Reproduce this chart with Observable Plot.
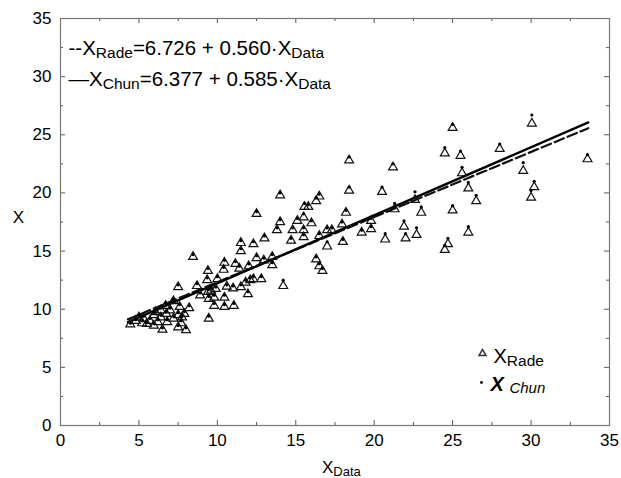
<!DOCTYPE html>
<html><head><meta charset="utf-8">
<script src="https://cdn.jsdelivr.net/npm/d3@7"></script>
<script src="https://cdn.jsdelivr.net/npm/@observablehq/plot@0.6"></script>
<style>body{margin:0;background:#fff}#chart svg{display:block}</style>
</head><body><div id="chart"></div>
<script>
// ---- data ----
const xData = [30.05,28.0,29.5,30.2,30.0,33.6,25.0,24.5,25.5,25.6,21.2,26.0,26.5,21.3,22.6,23.0,25.0,21.9,22.7,22.0,26.0,24.7,24.5,
  18.4,18.4,20.5,16.5,16.3,15.55,15.8,18.2,17.95,15.5,15.1,16.0,15.5,15.5,14.8,14.7,17.0,16.5,17.3,19.8,19.2,19.8,20.7,18.0,17.0,16.3,16.5,16.7,
  14.0,12.5,14.0,13.8,11.5,12.3,13.0,11.5,10.45,11.15,12.5,12.96,13.5,13.5,12.0,11.4,9.4,10.4,10.0,12.1,11.8,12.3,12.8,14.2,10.6,11.0,11.5,9.9,9.6,10.45,11.95,9.35,
  8.45,7.5,8.7,8.9,9.4,9.45,7.6,7.0,7.5,7.9,8.2,9.45,7.7,6.5,8.0,4.45,4.8,5.7,5.95,6.4,6.75,6.2,5.5,5.2,5.95,6.8,7.2,6.4,6.7,7.2,6.05,5.3,5.0,11.05,9.8,7.5,7.75,9.8,10.45];
const xRade = [25.97,23.8,21.9,20.5,19.6,22.9,25.6,23.4,23.2,21.7,22.2,20.4,19.3,18.6,19.4,18.3,18.5,17.1,16.4,16.1,16.6,15.6,15.1,
  22.8,20.2,20.1,19.7,19.3,18.8,18.8,18.3,17.3,17.9,17.6,17.4,16.8,16.2,16.8,15.9,16.8,16.3,16.8,17.6,16.6,16.9,16.0,15.8,15.4,14.3,13.7,13.3,
  19.8,18.2,17.5,16.8,15.7,15.6,16.1,15.0,14.0,13.9,14.4,14.2,14.5,13.8,13.7,13.5,13.3,13.4,12.6,12.5,12.3,12.6,12.6,12.0,11.95,11.8,11.9,11.75,11.6,11.0,11.3,12.5,
  14.5,11.9,12.0,11.2,11.5,10.9,10.2,9.9,9.5,9.6,10.1,9.2,8.8,8.25,8.2,8.7,9.0,9.0,9.5,9.3,9.6,8.9,8.75,8.8,8.6,8.9,9.2,9.9,10.3,10.7,9.75,9.2,9.3,10.3,10.3,8.45,9.3,11.0,10.2];
const xChun = [26.7,24.2,22.6,21.0,20.2,23.3,25.9,23.9,23.6,22.2,22.5,20.9,19.8,19.1,20.1,18.8,18.9,17.6,17.0,16.5,17.1,16.1,15.5,
  23.1,20.5,20.5,19.9,19.6,19.1,19.0,18.5,17.5,18.2,17.8,17.6,17.0,16.4,17.0,16.1,17.0,16.5,17.0,17.8,16.8,17.1,16.5,16.0,15.8,14.5,13.9,13.5,
  20.0,18.4,17.7,17.0,15.9,15.8,16.3,15.2,14.2,14.1,14.6,14.4,14.7,14.0,13.9,13.7,13.5,13.6,12.8,12.7,12.5,12.8,12.8,12.5,12.1,12.0,12.1,11.9,11.8,11.2,11.5,12.7,
  14.7,12.1,12.2,11.4,11.7,11.1,10.4,10.1,9.7,9.8,10.3,9.4,9.0,8.4,8.4,8.8,9.1,9.2,9.7,9.5,9.8,9.1,8.9,9.0,8.8,9.1,9.4,10.1,10.5,10.9,9.9,9.4,9.5,10.5,10.5,8.6,9.5,11.2,10.4];
const majorTicks = [0,5,10,15,20,25,30,35];
const minorTicks = [2.5,7.5,12.5,17.5,22.5,27.5,32.5];
const fitRade = {a: 6.726, b: 0.560};
const fitChun = {a: 6.377, b: 0.585};
const fitRange = [4.3, 33.65];
const eqLabels = ["--X_{Rade}=6.726 + 0.560·X_{Data}", "—X_{Chun}=6.377 + 0.585·X_{Data}"];
const seriesLabels = ["X_{Rade}", "X _{Chun}"];
const axisLabels = {x: "X_{Data}", y: "X"};

// ---- build ----
const points = xData.map((x, i) => ({x, rade: xRade[i], chun: xChun[i]}));
const lineRade = fitRange.map(x => ({x, y: fitRade.a + fitRade.b * x}));
const lineChun = fitRange.map(x => ({x, y: fitChun.a + fitChun.b * x}));
const W = 621, H = 478, mL = 60, mR = 12, mT = 18, mB = 53;
const fw = W - mL - mR, fh = H - mT - mB;
const tickCol = "#555";

const chart = Plot.plot({
  width: W, height: H,
  marginLeft: mL, marginRight: mR, marginTop: mT, marginBottom: mB,
  style: {fontFamily: "'Liberation Sans', Arial, sans-serif", fontSize: "17px", color: "#000", background: "#fff"},
  x: {domain: [0, 35]},
  y: {domain: [0, 35]},
  marks: [
    Plot.tickX(majorTicks, {x: d => d, insetTop: fh - 5, stroke: tickCol}),
    Plot.tickX(minorTicks, {x: d => d, insetTop: fh - 3, stroke: tickCol}),
    Plot.tickX(majorTicks, {x: d => d, insetBottom: fh - 5, stroke: tickCol}),
    Plot.tickX(minorTicks, {x: d => d, insetBottom: fh - 3, stroke: tickCol}),
    Plot.tickY(majorTicks, {y: d => d, insetRight: fw - 5, stroke: tickCol}),
    Plot.tickY(minorTicks, {y: d => d, insetRight: fw - 3, stroke: tickCol}),
    Plot.tickY(majorTicks, {y: d => d, insetLeft: fw - 5, stroke: tickCol}),
    Plot.tickY(minorTicks, {y: d => d, insetLeft: fw - 3, stroke: tickCol}),
    Plot.frame({stroke: "#777", strokeWidth: 1.2}),
    Plot.axisX({ticks: majorTicks, tickSize: 0, tickPadding: 8, label: null, fontSize: 17}),
    Plot.axisY({ticks: majorTicks, tickSize: 0, tickPadding: 9, label: null, fontSize: 17}),
    Plot.line(lineRade, {x: "x", y: "y", stroke: "#111", strokeWidth: 2.2, strokeDasharray: "10,4"}),
    Plot.line(lineChun, {x: "x", y: "y", stroke: "#000", strokeWidth: 2.4}),
    Plot.dot(points, {x: "x", y: "rade", symbol: "triangle", r: 3.3, stroke: "#111", strokeWidth: 1.2, fill: "none"}),
    Plot.dot(points, {x: "x", y: "chun", r: 1.6, fill: "#000", stroke: "none"}),
    Plot.text([eqLabels[0]], {text: d => d, frameAnchor: "top-left", dx: 8, dy: 36, textAnchor: "start", lineAnchor: "bottom", fontSize: 20.5}),
    Plot.text([eqLabels[1]], {text: d => d, frameAnchor: "top-left", dx: 8, dy: 67, textAnchor: "start", lineAnchor: "bottom", fontSize: 20.5}),
    Plot.dot([seriesLabels[0]], {frameAnchor: "bottom-right", dx: -127, dy: -72, symbol: "triangle", r: 2.6, stroke: "#333", fill: "none"}),
    Plot.dot([seriesLabels[1]], {frameAnchor: "bottom-right", dx: -128, dy: -43, r: 1.4, fill: "#000"}),
    Plot.text([seriesLabels[0]], {text: d => d, frameAnchor: "bottom-right", dx: -116, dy: -63, textAnchor: "start", lineAnchor: "bottom", fontSize: 20}),
    Plot.text([seriesLabels[1]], {text: d => d, frameAnchor: "bottom-right", dx: -119, dy: -35, textAnchor: "start", lineAnchor: "bottom", fontSize: 20, fontStyle: "italic"}),
    Plot.text([axisLabels.x], {text: d => d, frameAnchor: "bottom", dx: -13, dy: 47, textAnchor: "start", lineAnchor: "bottom", fontSize: 17}),
    Plot.text([axisLabels.y], {text: d => d, frameAnchor: "left", dx: -42, dy: -4, textAnchor: "middle", lineAnchor: "middle", fontSize: 17})
  ]
});

// subscript rendering: "_{...}" -> lowered, smaller tspan
const NS = "http://www.w3.org/2000/svg";
function rich(el, subSize, shift, boldMain) {
  const s = el.textContent;
  el.textContent = "";
  const re = /_\{([^}]*)\}/g;
  let last = 0, m, down = false;
  const add = (str, sub) => {
    const t = document.createElementNS(NS, "tspan");
    t.textContent = str;
    if (sub) { t.setAttribute("font-size", subSize); t.setAttribute("dy", shift); down = true; }
    else {
      if (down) { t.setAttribute("dy", -shift); down = false; }
      if (boldMain) t.setAttribute("font-weight", "bold");
    }
    el.appendChild(t);
  };
  while ((m = re.exec(s))) {
    if (m.index > last) add(s.slice(last, m.index), false);
    add(m[1], true);
    last = re.lastIndex;
  }
  if (last < s.length) add(s.slice(last), false);
}
chart.querySelectorAll("text").forEach(el => {
  const s = el.textContent;
  if (!s.includes("_{")) return;
  if (s === seriesLabels[1]) rich(el, 15, 2, true);
  else if (s === axisLabels.x) rich(el, 13, 3, false);
  else rich(el, 15.5, 3, false);
});
document.getElementById("chart").appendChild(chart);
</script></body></html>
